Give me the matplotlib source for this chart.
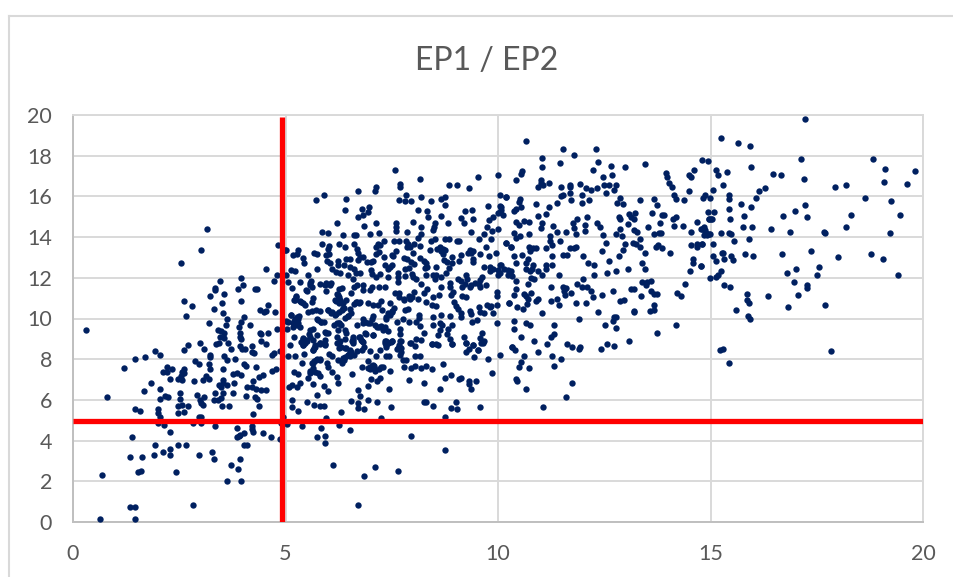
import matplotlib
matplotlib.use("Agg")
import matplotlib.pyplot as plt
from matplotlib.lines import Line2D

plt.rcParams['font.family'] = ['Lato', 'DejaVu Sans']

title = "EP1 / EP2"
x_ticks = [0, 5, 10, 15, 20]
y_ticks = [0, 2, 4, 6, 8, 10, 12, 14, 16, 18, 20]
threshold_x = 4.92
threshold_y = 4.95

# (EP1, EP2) pairs, grouped by region
points_right = [
(17.23,19.82),(15.24,18.87),(15.65,18.64),(15.92,18.48),(17.12,17.86),(18.83,17.86),(19.10,17.37),(19.80,17.27),(15.95,17.43),(15.38,17.2),
(15.12,17.3),(15.18,17.04),(16.48,17.1),(16.65,17.04),(17.2,16.87),(19.08,16.71),(19.63,16.61),(18.19,16.58),(17.92,16.48),(15.30,16.55),
(16.29,16.42),(16.15,16.28),(15.07,16.32),(15.43,16.09),(15.43,15.89),(16.06,15.92),(14.99,15.92),(18.64,15.92),(19.25,15.76),(17.23,15.6),
(15.71,15.63),(15.96,15.47),(15.43,15.4),(16.98,15.27),(15.08,15.24),(16.71,15.04),(15.79,15.04),(17.28,14.97),(18.3,15.11),(19.47,15.11),
(15.46,14.91),(15.02,14.91),(15.76,14.52),(15.98,14.52),(16.43,14.38),(16.87,14.25),(17.67,14.25),(17.70,14.22),(18.19,14.52),(19.22,14.22),
(15.24,14.22),(15.43,14.22),(15.49,14.16),(15.9,13.89),(15.55,13.79),(15.07,13.66),(15.30,13.2),(15.32,12.94),(15.27,13.23),(15.49,13.07),
(15.54,12.88),(15.05,13.07),(15.12,12.81),(15.82,13.17),(16.01,13.07),(16.68,13.17),(17.37,13.3),(18.0,13.0),(18.77,13.17),(19.07,12.94),
(17.56,12.55),(19.41,12.16),(17.01,12.42),(16.79,12.22),(17.5,12.12),(15.24,12.35),(15.18,12.16),(15.12,12.06),(14.98,11.99),(15.32,11.63),
(15.46,11.57),(16.97,11.8),(17.26,11.67),(17.26,11.5),(15.87,11.21),(16.35,11.11),(17.06,11.14),(15.87,10.91),(15.9,10.75),(17.69,10.68),
(15.6,10.42),(16.82,10.55),(15.88,10.13),(15.92,9.96),(15.23,8.45),(15.3,8.52),(17.84,8.42),(15.43,7.8),(14.8,17.79),(14.93,17.76),
(14.83,15.92),(14.88,16.09),(14.93,15.24),(14.96,14.88),(14.82,14.42),(14.87,14.35),(14.77,14.42),(14.91,14.12),(14.96,14.15),(14.85,14.09),
(14.8,13.66),(14.77,12.58),
]
points_upper_mid = [
(10.65,18.74),(11.54,18.35),(12.31,18.35),(11.79,18.02),(11.03,17.89),(11.47,17.63),(12.36,17.7),(12.66,17.5),(12.99,17.43),(13.47,17.6),
(11.03,17.43),(10.56,17.27),(10.53,17.1),(12.23,17.3),(12.69,17.07),(12.48,16.94),(10.42,16.81),(11.0,16.81),(11.01,16.68),(11.2,16.68),
(11.07,16.55),(10.93,16.45),(11.48,16.45),(11.69,16.55),(11.7,16.45),(11.94,16.61),(12.06,16.42),(12.19,16.29),(12.34,16.42),(12.5,16.58),
(12.61,16.58),(12.78,16.55),(12.55,16.19),(12.73,16.29),(11.69,16.19),(11.53,16.09),(11.48,16.02),(11.97,16.06),(11.72,15.83),(12.14,15.83),
(11.98,15.7),(11.39,15.7),(12.88,15.93),(12.81,15.7),(12.95,15.63),(13.35,15.83),(13.67,15.89),(13.75,15.6),(13.96,17.14),(13.97,16.97),
(14.02,16.65),(14.1,16.48),(14.5,17.07),(14.55,16.94),(14.61,17.3),(14.15,16.09),(14.19,15.89),(14.38,15.83),(14.5,16.25),(10.9,15.63),
(10.51,15.89),(10.49,15.73),(10.2,15.99),(10.07,15.5),(10.07,15.34),(10.12,15.11),(10.54,15.47),(10.43,15.4),(10.37,15.27),(11.2,15.47),
(11.14,15.14),(10.93,15.04),(11.87,14.91),(12.09,14.98),(10.43,14.75),(10.49,14.61),(10.6,14.81),(10.73,14.75),(11.04,14.68),(11.0,14.45),
(11.29,14.55),(11.76,14.68),(11.79,14.45),(12.05,14.58),(12.05,14.32),(12.34,14.68),(12.39,14.48),(12.84,14.98),(12.88,14.88),(13.08,15.14),
(13.13,14.98),(13.22,15.17),(13.2,14.88),(13.06,14.65),(13.63,15.17),(13.85,15.11),(13.91,15.11),(13.82,14.68),(13.52,14.52),(14.11,14.91),
(14.19,14.98),(14.15,14.55),(14.36,14.55),(14.69,14.75),(14.55,14.25),(14.79,14.39),(14.85,14.48),(14.9,14.19),(14.98,14.16),(14.96,14.91),
(15.04,14.91),(10.37,14.22),(10.73,14.16),(10.43,13.96),(10.51,14.03),(11.39,14.25),(11.61,14.25),(11.84,14.16),(11.23,14.03),(11.23,13.83),
(11.28,13.6),(11.47,13.8),(12.48,14.09),(12.77,14.16),(12.88,14.39),(12.91,14.03),(13.2,14.35),(13.27,14.25),(13.67,14.16),(13.78,14.22),
(13.83,14.22),(13.35,13.9),(13.17,13.73),(13.24,13.66),(13.33,13.53),(12.99,13.66),(12.55,13.73),(12.95,13.37),(13.47,13.24),(14.05,13.24),
(13.77,13.63),(13.72,13.5),(13.85,13.44),(14.55,13.6),(14.68,13.66),(14.68,13.5),(14.8,13.66),(10.2,13.73),(10.31,13.5),(10.73,13.53),
(10.76,13.3),(10.82,13.44),(10.89,13.47),(11.14,13.44),(11.69,13.44),(11.79,13.47),(11.84,13.5),(12.45,13.3),(12.84,13.08),(10.38,13.08),
(10.56,13.14),(10.7,12.94),(11.26,13.08),(11.53,13.14),(11.62,13.14),(12.01,13.08),(10.42,12.72),(10.65,12.72),(10.82,12.62),(11.14,12.65),
(11.26,12.65),(11.12,12.45),(12.11,12.72),(12.25,12.65),(12.61,12.81),(13.39,12.72),(13.47,12.45),(13.06,12.45),(12.78,12.35),(12.56,12.22),
(12.25,12.16),(11.43,12.13),(11.03,12.13),(10.93,12.35),(10.07,12.65),(10.15,12.45),(10.23,12.39),(10.31,12.35),(10.04,12.22),(10.23,12.16),
(10.32,12.09),(10.67,12.42),(10.76,12.35),(10.81,12.45),(10.78,12.0),(10.85,11.93),(10.43,11.86),(10.7,11.7),(11.25,11.57),(11.53,11.57),
(11.59,11.5),(11.56,11.34),(11.58,11.14),(11.72,11.27),(11.86,11.7),(11.97,11.57),(12.09,11.57),(12.19,11.37),(12.01,11.93),(12.23,11.04),
(12.44,11.14),(12.70,11.34),(13.14,11.47),(13.2,11.47),(13.39,11.77),(13.5,11.8),(13.61,11.86),(13.49,11.63),(13.61,11.37),(13.66,11.21),
(13.75,11.21),(13.36,11.11),(14.22,11.27),(14.3,11.11),(14.41,11.7),(10.43,11.47),(10.37,11.14),(10.6,11.21),(10.65,11.11),(10.7,10.98),
(10.78,11.27),(10.89,10.88),(10.95,10.98),(10.26,10.75),(10.45,10.55),(10.59,10.49),(10.68,10.72),(11.25,10.88),(11.39,10.98),(11.43,10.68),
(11.84,10.75),(12.06,10.75),(12.88,10.88),(12.97,10.91),(13.67,10.68),(13.57,10.39),(13.66,10.42),(13.2,10.39),(13.2,10.32),(12.36,10.32),
(11.03,10.26),(10.38,9.9),(10.38,9.47),(10.65,9.8),(10.75,9.7),(11.32,9.67),(11.9,9.96),(12.70,9.9),(12.78,10.09),(12.73,10.09),
(12.52,9.67),(12.78,9.54),(14.19,9.67),(13.75,9.31),(11.31,9.24),(11.25,9.11),(10.54,9.11),(10.85,8.88),(11.15,8.75),(13.08,8.88),
(12.56,8.75),(12.73,8.65),(11.62,8.75),(11.73,8.59),(11.94,8.59),(10.34,8.59),(12.42,8.49),(14.58,12.94),(14.58,12.72),(14.77,12.58),
(14.52,12.35),
]
points_lower_mid = [
(10.05,8.22),(10.33,8.58),(10.4,8.45),(10.6,8.15),(10.55,7.86),(10.49,7.63),(10.72,7.56),(10.43,7.04),(10.44,6.91),(10.66,6.55),
(10.93,8.35),(11.27,8.15),(11.48,8.02),(11.32,7.66),(11.9,8.48),(11.73,6.84),(11.6,6.12),(11.07,5.66),(9.86,7.33),(9.77,8.02),
(9.44,8.12),(9.24,8.35),(9.32,8.51),(9.41,8.71),(9.52,8.45),(9.6,8.81),(9.66,8.87),(9.25,8.81),(8.91,8.74),(8.7,7.76),
(8.45,7.5),(8.3,7.66),(8.2,7.56),(8.05,7.66),(7.95,7.56),(7.79,7.63),(7.83,7.96),(7.76,7.96),(8.05,8.15),(8.16,8.15),
(8.05,8.65),(7.94,8.78),(8.45,8.74),(8.58,8.71),(7.69,8.55),(7.62,8.51),(7.69,8.22),(7.37,8.61),(7.36,8.15),(7.43,8.15),
(7.23,8.45),(7.12,8.15),(6.99,8.42),(6.93,7.92),(6.79,7.63),(6.95,7.56),(7.03,7.66),(7.09,7.66),(6.98,7.53),(7.2,7.5),
(7.29,7.63),(7.1,7.43),(7.47,7.43),(6.56,7.27),(7.01,7.04),(7.15,6.91),(7.23,7.07),(6.95,6.68),(7.43,6.55),(6.7,6.48),
(6.76,6.19),(6.23,6.84),(6.2,7.14),(6.09,7.37),(6.01,7.63),(5.98,7.79),(7.9,6.97),(8.27,6.84),(8.75,7.07),(8.89,7.2),
(9.08,7.04),(9.14,7.07),(9.31,6.91),(9.31,6.78),(9.36,6.55),(9.49,6.91),(8.63,6.55),(8.25,5.89),(8.3,5.89),(8.47,5.7),
(9.0,5.89),(8.89,5.6),(9.03,5.53),(9.58,5.66),(8.75,5.17),(7.48,5.66),(7.15,5.89),(6.93,5.99),(6.71,5.83),(6.7,5.6),
(6.85,5.53),(6.54,5.96),(6.31,5.4),(7.25,5.11),(5.95,5.11),(5.91,5.7),(5.82,5.7),(5.68,5.76),(5.51,5.89),(5.29,5.47),
(5.15,5.99),(5.15,5.66),(5.73,6.25),(5.99,6.42),(5.91,6.68),(5.65,6.78),(5.34,6.84),(5.27,6.61),(5.15,6.74),(5.08,6.61),
(5.52,7.07),(5.8,7.17),(5.7,7.37),(5.57,7.43),(5.19,7.37),(5.3,7.27),(5.63,7.79),(5.73,8.02),(5.8,7.99),(5.68,7.89),
(5.38,7.79),(5.05,8.15),(5.23,8.15),(5.44,8.28),(5.66,8.55),(5.7,8.68),(5.65,8.45),(5.1,8.68),(5.41,8.71),(5.4,8.87),
(5.51,8.87),(5.82,8.78),(5.93,8.71),(6.03,8.28),(6.1,8.15),(6.23,7.96),(6.34,7.83),(6.37,7.96),(6.46,8.19),(6.51,8.15),
(6.4,8.12),(6.62,8.22),(6.68,8.42),(6.79,8.45),(6.84,8.61),(6.31,8.61),(6.42,8.55),(6.51,8.45),(6.53,8.35),(6.2,8.81),
(6.28,8.87),(6.59,8.87),(6.81,8.87),(7.34,8.87),(7.5,8.87),(7.72,8.87),(7.4,8.78),(5.38,4.71),(5.04,4.84),(5.84,4.62),
(5.93,4.25),(5.73,4.16),(5.93,3.89),(6.26,4.78),(6.51,4.52),(7.95,4.25),(8.75,3.53),(6.12,2.81),(6.84,2.26),(7.1,2.72),
(7.64,2.52),(6.71,0.82),
]
points_dense = [
(8.17,16.87),(9.53,16.94),(10.0,17.07),(7.58,17.3),(7.7,16.61),(7.7,16.48),(7.14,16.48),(7.11,16.25),(6.71,16.25),(5.91,16.06),
(5.71,15.83),(6.43,15.89),(7.84,16.05),(7.67,15.83),(7.81,15.76),(7.95,15.76),(8.2,15.99),(8.42,15.76),(8.84,16.58),(9.03,16.55),
(9.31,16.42),(8.75,15.99),(8.67,15.89),(8.75,15.6),(9.77,15.53),(10.05,16.09),(10.19,15.99),(10.05,15.53),(9.38,15.33),(9.22,15.27),
(8.34,15.27),(8.36,14.97),(8.11,15.33),(8.67,15.04),(6.4,15.33),(6.81,15.4),(6.96,15.47),(6.95,15.24),(6.82,15.1),(6.71,14.97),
(6.21,14.68),(6.85,14.55),(7.12,14.68),(7.61,14.68),(7.59,14.52),(7.61,14.32),(8.0,14.74),(8.2,14.52),(8.2,14.15),(8.11,13.96),
(8.52,14.68),(8.5,14.52),(8.47,14.35),(8.83,14.68),(9.13,14.94),(9.19,14.68),(9.41,14.88),(9.36,14.25),(9.68,14.15),(9.85,14.29),
(9.99,14.38),(9.78,14.84),(9.88,15.01),(9.99,15.17),(10.05,15.24),(9.74,14.52),(5.87,14.25),(5.99,14.22),(6.35,14.09),(6.6,14.09),
(6.67,14.09),(6.99,14.15),(7.2,14.22),(7.86,14.25),(5.85,13.66),(6.02,13.57),(6.01,13.4),(6.26,13.66),(6.39,13.53),(6.6,13.66),
(7.32,13.79),(7.18,13.66),(7.14,13.5),(7.23,13.6),(7.56,13.83),(7.67,13.83),(7.83,13.79),(7.89,13.66),(7.86,13.53),(8.03,13.66),
(7.94,13.53),(8.16,13.57),(8.0,13.24),(8.42,13.83),(8.52,13.89),(8.39,13.37),(8.56,13.4),(8.75,13.89),(8.84,13.89),(9.03,13.83),
(9.08,13.79),(8.64,13.53),(8.7,13.4),(8.75,13.37),(8.66,13.3),(8.7,13.17),(9.55,13.89),(9.83,13.89),(9.72,13.53),(10.19,13.73),
(10.3,13.53),(9.96,13.24),(9.33,13.37),(9.41,13.34),(9.3,13.2),(9.36,13.24),(9.58,13.17),(9.14,13.14),(9.78,13.07),(9.41,12.94),
(9.41,12.78),(9.08,12.84),(8.92,13.01),(8.91,12.71),(8.81,12.78),(5.01,13.37),(5.29,13.37),(5.26,13.17),(5.18,13.14),(5.4,12.98),
(5.43,12.75),(5.68,13.24),(5.74,13.17),(5.95,13.1),(6.02,13.17),(5.98,12.84),(6.04,12.75),(6.23,12.81),(6.24,12.62),(6.43,12.94),
(6.51,12.94),(6.68,13.43),(6.71,13.24),(6.75,13.01),(6.71,12.88),(6.82,13.01),(6.92,12.78),(7.0,12.78),(7.07,12.84),(7.12,13.17),
(7.2,13.27),(7.31,13.04),(7.53,13.07),(7.61,13.3),(7.5,13.14),(7.78,12.98),(7.87,12.91),(7.95,12.78),(8.03,12.68),(8.16,12.98),
(8.25,12.84),(8.3,12.71),(8.34,12.55),(8.28,12.48),(8.53,12.55),(8.84,12.48),(8.73,12.88),(9.66,12.55),(9.8,12.55),(9.88,12.42),
(9.8,12.32),(10.05,12.65),(10.0,12.39),(9.99,12.16),(5.02,12.12),(5.12,12.39),(5.23,12.35),(5.74,12.45),(5.53,12.12),(6.1,12.45),
(6.18,12.29),(6.29,12.22),(6.37,12.62),(6.51,12.55),(6.6,12.45),(6.46,12.12),(6.59,11.93),(6.65,12.22),(6.75,12.22),(7.01,12.39),
(7.03,12.19),(7.14,12.06),(7.22,12.19),(7.34,12.63),(7.4,12.42),(7.5,12.65),(7.45,12.52),(7.64,12.22),(7.64,12.03),(7.64,11.8),
(7.42,12.06),(7.81,12.09),(7.81,12.42),(7.9,12.48),(7.97,12.19),(8.01,12.06),(8.06,11.96),(8.3,12.12),(8.48,12.12),(8.51,11.93),
(8.55,12.16),(8.67,12.03),(8.78,12.22),(8.86,11.76),(8.86,11.57),(9.05,11.96),(9.14,11.86),(9.24,12.12),(9.27,11.93),(9.57,11.89),
(9.63,12.06),(9.22,11.7),(9.16,11.57),(9.36,11.63),(9.47,11.73),(9.55,11.7),(9.33,11.53),(9.57,11.53),(9.72,11.67),(9.97,11.3),
(9.97,11.11),(5.07,11.8),(5.15,11.5),(5.35,11.8),(5.6,11.86),(5.57,11.67),(5.63,11.53),(5.51,11.37),(5.8,11.7),(5.93,11.63),
(6.07,11.76),(5.95,11.37),(6.32,11.5),(6.26,11.44),(6.21,11.21),(6.26,11.08),(6.53,11.27),(6.62,11.53),(6.68,11.67),(6.82,11.63),
(6.82,11.4),(6.98,11.4),(7.03,11.57),(7.2,11.57),(7.34,11.57),(7.58,11.27),(7.67,11.27),(7.78,10.94),(7.9,11.11),(8.03,11.3),
(7.98,11.08),(7.94,10.94),(8.11,10.94),(8.2,11.7),(8.33,11.47),(8.27,11.27),(8.47,11.08),(8.61,11.17),(8.66,11.57),(8.95,11.3),
(8.89,11.17),(9.16,11.11),(9.25,11.04),(5.24,11.11),(5.21,10.91),(5.35,10.88),(5.4,10.75),(5.65,10.99),(5.63,10.81),(6.18,10.85),
(6.28,10.91),(6.35,10.78),(6.62,10.72),(6.68,10.81),(6.75,10.81),(6.93,10.75),(7.07,10.68),(7.17,10.68),(7.25,10.85),(7.47,10.75),
(7.66,11.04),(7.78,10.91),(8.31,10.81),(8.45,10.68),(8.55,10.62),(8.97,10.81),(9.0,10.62),(9.05,10.45),(9.13,10.29),(9.55,10.55),
(9.75,10.68),(9.83,10.62),(9.97,10.68),(10.25,10.75),(5.52,10.32),(5.62,10.39),(5.71,10.42),(5.82,10.39),(6.01,10.42),(6.1,10.32),
(6.18,10.22),(6.32,10.42),(6.37,10.52),(6.51,10.49),(6.54,10.29),(6.46,10.13),(6.4,10.03),(7.26,10.42),(7.42,10.26),(7.36,10.06),
(7.5,10.39),(7.81,10.42),(7.89,10.45),(8.14,10.19),(8.14,10.03),(8.47,10.09),(8.66,10.19),(8.86,10.13),(9.33,10.35),(9.36,10.22),
(9.57,10.32),(9.68,10.29),(9.8,10.58),(9.88,10.26),(9.13,10.06),(5.13,10.19),(5.26,10.09),(5.32,10.13),(5.02,9.86),(5.19,9.86),
(5.27,9.67),(5.04,9.5),(5.18,9.6),(5.74,9.96),(5.84,9.83),(5.91,9.83),(6.13,9.67),(6.26,9.8),(6.31,9.7),(6.48,10.13),
(6.68,9.67),(6.82,9.77),(6.98,9.77),(7.03,9.96),(7.07,10.13),(7.15,9.6),(7.25,9.63),(7.4,9.37),(7.62,9.83),(7.76,10.0),
(7.9,9.83),(8.08,9.83),(8.16,9.63),(8.48,9.7),(8.63,9.77),(8.69,9.7),(8.92,9.67),(8.83,9.5),(8.63,9.44),(8.59,9.21),
(9.39,9.83),(9.5,9.93),(9.97,9.8),(5.21,9.11),(5.65,9.47),(5.55,9.24),(5.41,8.98),(5.4,8.72),(5.65,8.95),(5.74,9.21),
(5.95,9.31),(5.93,8.95),(5.82,8.75),(5.93,8.75),(6.21,9.11),(6.26,8.78),(6.39,9.01),(6.43,9.27),(6.59,9.01),(6.57,8.88),
(6.75,9.11),(6.78,8.95),(6.89,9.24),(7.06,9.18),(7.37,8.91),(7.5,8.88),(7.36,8.72),(7.69,9.5),(7.69,9.24),(7.7,8.88),
(7.95,8.81),(8.06,9.01),(8.2,8.94),(8.27,9.27),(8.45,8.75),(8.55,8.75),(8.81,9.24),(8.86,9.01),(8.92,8.75),(9.19,9.11),
(9.24,8.81),(9.41,8.72),(9.63,9.27),(9.57,9.04),(9.64,8.82),(9.52,8.45),
]
points_core = [
(5.41,9.02),(5.49,8.94),(5.57,9.1),(5.37,8.86),(5.45,8.78),(5.57,9.43),(5.14,10.17),(5.22,10.0),(5.29,10.0),(5.18,9.76),
(5.29,9.76),(5.33,9.6),(5.06,9.84),(6.0,10.42),(6.08,10.25),(6.16,10.17),(6.27,10.33),(6.35,10.5),(7.45,10.17),(7.5,10.33),
(7.55,10.5),(7.37,10.0),(6.16,10.91),(6.23,11.15),(6.27,10.74),(6.43,10.91),(6.66,10.83),(6.74,10.74),(5.57,7.3),(5.65,7.8),
(5.72,7.96),(5.8,7.96),(5.65,7.55),(5.76,7.3),(6.27,8.53),(6.39,8.53),(6.51,8.37),(6.47,8.2),(6.35,8.04),(5.65,8.45),
(5.69,8.61),(5.8,8.78),(5.92,9.35),(6.0,9.27),(6.59,9.1),(6.59,8.8),(6.74,9.1),(6.82,8.86),(6.86,9.27),(7.06,9.19),
(7.21,9.6),(7.29,9.43),(7.1,9.68),(7.33,9.6),(6.86,9.84),(6.94,9.76),(6.82,10.0),(6.2,9.76),(6.27,9.76),(6.23,9.43),
(6.39,9.43),(5.76,9.92),(5.84,9.84),(7.64,8.53),(7.72,8.53),(7.68,8.7),(7.72,8.37),(7.33,8.78),(7.41,8.78),(7.49,8.86),
(6.98,7.63),(7.06,7.71),(7.1,7.47),(7.25,7.63),(5.25,11.07),(5.22,10.91),(5.37,10.83),(5.45,10.66),(5.96,11.73),(6.04,11.64),
(5.49,11.4),(5.57,11.73),
]
points_left = [
(3.16,14.38),(3.0,13.37),(2.54,12.71),(3.46,11.86),(3.95,12.0),(3.34,11.5),(3.88,11.47),(4.01,11.63),(4.29,11.47),(4.34,11.47),
(4.53,12.45),(4.83,13.6),(4.72,11.86),(4.79,12.12),(4.98,13.37),(0.31,9.43),(0.8,6.13),(1.19,7.57),(1.47,8.03),(1.69,8.12),
(1.94,8.42),(2.05,8.22),(2.21,7.63),(2.12,7.37),(2.21,7.37),(2.33,7.5),(2.29,7.04),(2.46,7.04),(2.57,6.98),(2.62,7.5),
(2.57,7.37),(2.62,7.31),(2.55,7.17),(1.83,6.85),(1.66,6.42),(2.05,6.55),(2.05,6.06),(2.16,6.19),(2.24,6.13),(2.51,6.32),
(2.51,6.06),(2.46,5.7),(2.57,5.77),(2.71,5.7),(1.99,5.57),(1.99,5.37),(2.05,5.18),(2.46,5.34),(2.6,5.41),(1.47,5.57),
(1.57,5.47),(1.99,4.88),(2.15,4.78),(2.29,4.42),(1.38,4.16),(1.94,3.8),(2.46,3.8),(2.66,3.8),(2.29,3.6),(2.12,3.44),
(1.91,3.28),(2.29,3.28),(1.35,3.18),(1.63,3.18),(0.69,2.33),(1.54,2.46),(1.6,2.52),(2.43,2.46),(1.35,0.72),(1.47,0.72),
(0.63,0.16),(1.47,0.16),(2.82,0.82),(2.96,3.28),(3.26,3.44),(3.31,3.08),(3.71,2.82),(3.92,3.08),(3.89,2.62),(3.62,2.0),
(3.96,2.0),(2.97,5.18),(3.01,5.18),(2.82,4.88),(3.01,4.85),(3.34,4.72),(3.85,4.62),(4.2,4.72),(4.2,4.55),(4.23,4.42),
(4.03,4.36),(3.93,4.26),(3.85,4.16),(3.9,4.23),(4.03,3.8),(4.1,3.8),(4.48,4.36),(4.65,4.16),(4.87,4.1),(4.23,5.31),
(4.9,4.85),(4.94,5.18),(2.6,10.88),(2.79,10.61),(2.66,10.12),(3.23,11.11),(3.34,11.4),(3.56,11.2),(3.31,10.48),(3.51,10.75),
(3.54,10.25),(3.96,10.88),(3.2,9.8),(3.62,9.96),(3.59,9.7),(4.03,10.09),(3.96,9.83),(3.9,9.57),(4.17,9.66),(3.42,9.43),
(3.49,9.37),(3.56,9.3),(3.46,9.11),(3.56,9.04),(3.92,9.3),(3.93,9.11),(3.96,8.98),(4.39,10.42),(4.5,10.32),(4.59,10.65),
(4.53,10.39),(4.75,10.32),(4.81,9.47),(4.4,9.3),(4.42,9.24),(4.59,9.3),(4.43,8.88),(4.53,8.75),(3.65,8.81),(3.43,8.81),
(3.37,8.75),(2.98,8.81),(2.71,8.71),(2.6,8.45),(3.09,8.52),(3.23,8.22),(3.23,8.12),(3.71,8.52),(3.56,8.16),(3.62,7.96),
(3.81,7.99),(3.92,8.65),(3.98,8.49),(4.04,8.49),(4.2,8.65),(4.2,8.35),(4.25,8.29),(4.68,8.22),(4.73,8.29),(4.87,8.42),
(2.88,7.93),(2.96,7.76),(3.2,7.76),(3.23,7.5),(3.54,7.5),(4.03,7.76),(4.06,7.67),(4.31,7.63),(3.76,7.27),(3.85,7.34),
(3.96,7.21),(4.37,7.14),(4.48,7.21),(4.68,7.44),(4.78,7.53),(2.85,6.91),(3.05,6.98),(3.13,7.17),(3.21,7.01),(3.54,6.98),
(3.53,6.85),(3.43,6.75),(3.62,6.75),(3.48,6.62),(3.78,6.85),(4.23,6.91),(4.09,6.62),(4.2,6.62),(4.31,6.55),(4.43,6.49),
(4.53,6.49),(2.91,6.26),(3.09,6.13),(2.98,6.0),(3.01,5.83),(3.07,5.77),(3.31,6.0),(3.42,6.0),(3.54,6.32),(3.49,6.09),
(3.34,6.32),(3.76,6.32),(4.06,6.19),(4.29,6.16),(4.34,6.03),(4.37,5.7),(3.51,5.7),(3.68,5.7),
]

all_points = points_left + points_dense + points_core + points_lower_mid + points_upper_mid + points_right
ep1 = [p[0] for p in all_points]
ep2 = [p[1] for p in all_points]

W, H = 954, 577
fig = plt.figure(figsize=(W / 100, H / 100), dpi=100, facecolor="white")
ax = fig.add_axes([73 / W, (H - 522) / H, 850 / W, 407 / H])

ax.set_xlim(0, 20)
ax.set_ylim(0, 20)
ax.set_xticks(x_ticks)
ax.set_yticks(y_ticks)
ax.grid(True, color="#d9d9d9", linewidth=1.4, zorder=0)
ax.set_axisbelow(True)
ax.tick_params(axis="y", length=0, labelsize=15.5, labelcolor="#595959", pad=15)
ax.tick_params(axis="x", length=0, labelsize=15.5, labelcolor="#595959", pad=16)
for side in ("top", "right"):
    ax.spines[side].set_color("#d9d9d9")
    ax.spines[side].set_linewidth(1.4)
for side in ("left", "bottom"):
    ax.spines[side].set_color("#bfbfbf")
    ax.spines[side].set_linewidth(1.4)

ax.scatter(ep1, ep2, s=21, color="#002060", linewidths=0, zorder=3, clip_on=False)

ax.axvline(threshold_x, ymin=0, ymax=0.995, color="#ff0000", linewidth=3.8, zorder=4, solid_capstyle="butt")
ax.axhline(threshold_y, color="#ff0000", linewidth=3.8, zorder=4, solid_capstyle="butt")

fig.text(487 / W, 1 - 60.5 / H, title, ha="center", va="center", fontsize=23, color="#595959")

# chart-area frame
frame = dict(color="#d9d9d9", linewidth=1.5, transform=fig.transFigure)
fig.add_artist(Line2D([9.5 / W, 9.5 / W], [0, 1 - 16 / H], **frame))
fig.add_artist(Line2D([9.5 / W, 1.0], [1 - 16 / H, 1 - 16 / H], **frame))

fig.savefig("out.png", dpi=100)
